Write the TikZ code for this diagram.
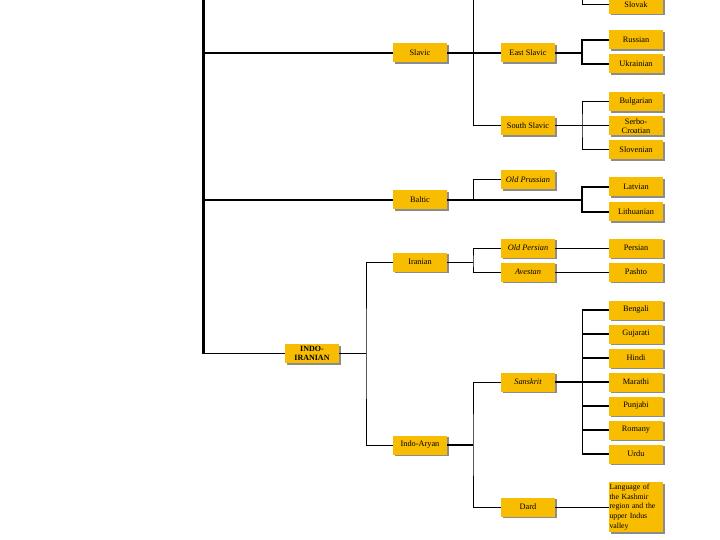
\documentclass[tikz,border=0pt]{standalone}
\usepackage{fontspec}
\setmainfont{Liberation Serif}
\usetikzlibrary{shadows}
\definecolor{boxy}{RGB}{248,188,0}
\tikzset{
  lang/.style={draw=none, fill=boxy, minimum width=54pt, minimum height=19pt,
    inner sep=1pt, font=\fontsize{8.3}{9}\selectfont, align=center,
    drop shadow={shadow xshift=1.5pt, shadow yshift=-1.5pt, fill=black!45, opacity=1}},
  langit/.style={lang, font=\fontsize{8.3}{9}\selectfont\itshape},
  lnthin/.style={line width=1pt},
  lnthick/.style={line width=2pt},
  lntrunk/.style={line width=3pt}
}
\begin{document}
\begin{tikzpicture}[x=1pt,y=-1pt]
\clip (0,0) rectangle (720,540);
\fill[white] (0,0) rectangle (720,540);
% coordinates
\coordinate (t0) at (203,-5);
\coordinate (t1) at (203,53);
\coordinate (t2) at (203,200);
\coordinate (t3) at (203,353.5);
\coordinate (v1) at (473,-5);
\coordinate (s0) at (582,-5);
\coordinate (f1) at (582,53);
\coordinate (f2) at (582,126);
\coordinate (f3) at (582,200);
\coordinate (op) at (473,200);
\coordinate (j1) at (366,353.5);
\coordinate (j2) at (473,262);
\coordinate (j3) at (473,445);
\coordinate (f4) at (582,382);
\coordinate (f4a) at (582,310);
\coordinate (f4b) at (582,454);

% nodes
\node[lang] (Slovak) at (636,4.5) {Slovak};
\node[lang] (Slavic) at (420,53) {Slavic};
\node[lang] (EastSlavic) at (528,53) {East Slavic};
\node[lang] (Russian) at (636,40) {Russian};
\node[lang] (Ukrainian) at (636,64) {Ukrainian};
\node[lang] (Bulgarian) at (636,102) {Bulgarian};
\node[lang, font=\fontsize{8.3}{8.6}\selectfont] (SerboCroatian) at (636,126) {Serbo-\\Croatian};
\node[lang] (SouthSlavic) at (528,126) {South Slavic};
\node[lang] (Slovenian) at (636,150) {Slovenian};
\node[langit] (OldPrussian) at (528,180) {Old Prussian};
\node[lang] (Baltic) at (420,200) {Baltic};
\node[lang] (Latvian) at (636,187) {Latvian};
\node[lang] (Lithuanian) at (636,212) {Lithuanian};
\node[lang] (Iranian) at (420,262) {Iranian};
\node[langit] (OldPersian) at (528,248) {Old Persian};
\node[langit] (Avestan) at (528,272) {Avestan};
\node[lang] (Persian) at (636,248) {Persian};
\node[lang] (Pashto) at (636,272) {Pashto};
\node[lang] (Bengali) at (636,310) {Bengali};
\node[lang] (Gujarati) at (636,334) {Gujarati};
\node[lang] (Hindi) at (636,358) {Hindi};
\node[lang] (Marathi) at (636,382) {Marathi};
\node[lang] (Punjabi) at (636,406) {Punjabi};
\node[lang] (Romany) at (636,430) {Romany};
\node[lang] (Urdu) at (636,454) {Urdu};
\node[langit] (Sanskrit) at (528,382) {Sanskrit};
\node[lang] (IndoAryan) at (420,445) {Indo-Aryan};
\node[lang] (Dard) at (528,507) {Dard};
\node[lang, minimum height=50pt, text width=53pt, align=left, inner sep=0.5pt,
      font=\fontsize{7.8}{9.6}\selectfont] (Kashmir) at (636,507)
  {Language of\\the Kashmir\\region and the\\upper Indus\\valley};
\node[lang, font=\fontsize{8}{9.5}\selectfont\bfseries] (IndoIranian) at (312,353.5) {INDO-\\IRANIAN};

% trunk
\draw[lntrunk] (t0) -- (t3);
% Slavic
\draw[lnthick] (t1) -- (Slavic);
\draw[lnthick] (Slavic) -- (EastSlavic);
\draw[lnthin] (v1) |- (SouthSlavic.west);
\draw[lnthin] (s0) |- (Slovak.west);
\draw[lnthick] (EastSlavic) -- (f1);
\draw[lnthick] (Russian.west) -| (f1) |- (Ukrainian.west);
\draw[lnthin] (SouthSlavic) -- (SerboCroatian);
\draw[lnthin] (Bulgarian.west) -| (f2) |- (Slovenian.west);
% Baltic
\draw[lnthick] (t2) -- (Baltic);
\draw[lnthick] (Baltic) -- (f3);
\draw[lnthick] (Latvian.west) -| (f3) |- (Lithuanian.west);
\draw[lnthin] (OldPrussian.west) -| (op);
% Indo-Iranian
\draw[lnthin] (t3) -- (IndoIranian);
\draw[lnthin] (IndoIranian) -- (j1);
\draw[lnthin] (Iranian.west) -| (j1) |- (IndoAryan.west);
\draw[lnthin] (Iranian) -- (j2);
\draw[lnthin] (OldPersian.west) -| (j2) |- (Avestan.west);
\draw[lnthin] (OldPersian) -- (Persian);
\draw[lnthin] (Avestan) -- (Pashto);
\draw[lnthick] (IndoAryan) -- (j3);
\draw[lnthin] (Sanskrit.west) -| (j3) |- (Dard.west);
\draw[lnthick] (Sanskrit) -- (f4);
\draw[lnthin] (f4a) -- (f4b);
\foreach \n in {Bengali,Gujarati,Hindi,Marathi,Punjabi,Romany,Urdu}
  \draw[lnthick] (\n.west) -- (582,0 |- \n.west);
\draw[lnthin] (Dard) -- (Kashmir);
\end{tikzpicture}
\end{document}
